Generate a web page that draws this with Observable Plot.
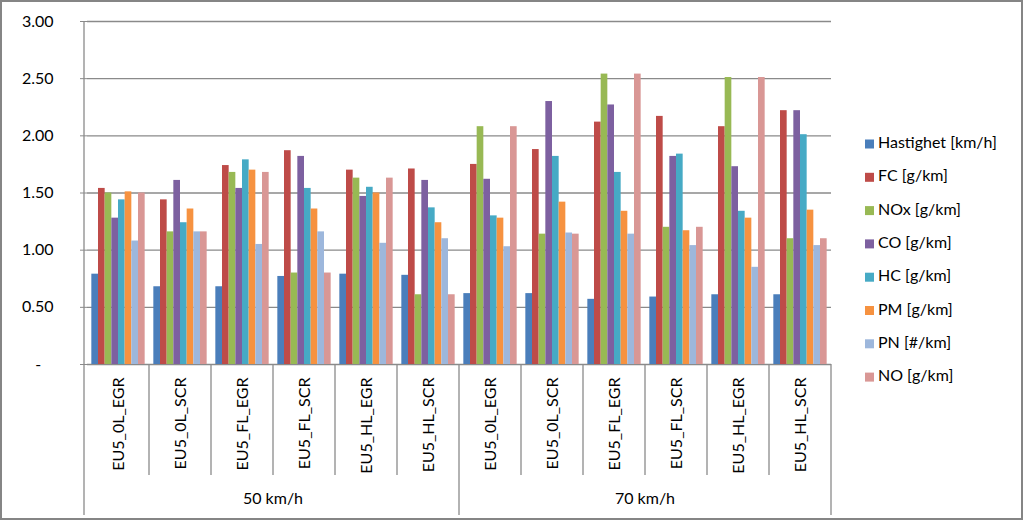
<!DOCTYPE html>
<html>
<head>
<meta charset="utf-8">
<script src="https://cdn.jsdelivr.net/npm/d3@7"></script>
<script src="https://cdn.jsdelivr.net/npm/@observablehq/plot@0.6"></script>
<style>
  html, body { margin: 0; padding: 0; background: #fff; }
  svg { display: block; }
</style>
</head>
<body>
<div id="chart"></div>
<script>
// ---- data ----
const groups = ["50 km/h", "70 km/h"];
const categories = ["EU5_0L_EGR", "EU5_0L_SCR", "EU5_FL_EGR", "EU5_FL_SCR", "EU5_HL_EGR", "EU5_HL_SCR"];
const series = ["Hastighet [km/h]", "FC [g/km]", "NOx [g/km]", "CO [g/km]", "HC [g/km]", "PM [g/km]", "PN [#/km]", "NO [g/km]"];
const seriesColors = ["#4A7EBB", "#BE4B48", "#98B954", "#7D60A0", "#46AAC5", "#F69240", "#9DB7DC", "#D99795"];
const yTicks = [0, 0.5, 1, 1.5, 2, 2.5, 3];

// values per category (order of series), 50 km/h group
const v50 = [
  [0.79, 1.54, 1.50, 1.28, 1.44, 1.51, 1.08, 1.50],
  [0.68, 1.44, 1.16, 1.61, 1.24, 1.36, 1.16, 1.16],
  [0.68, 1.74, 1.68, 1.54, 1.79, 1.70, 1.05, 1.68],
  [0.77, 1.87, 0.80, 1.82, 1.54, 1.36, 1.16, 0.80],
  [0.79, 1.70, 1.63, 1.47, 1.55, 1.50, 1.06, 1.63],
  [0.78, 1.71, 0.61, 1.61, 1.37, 1.24, 1.10, 0.61]
];
// 70 km/h group
const v70 = [
  [0.62, 1.75, 2.08, 1.62, 1.30, 1.28, 1.03, 2.08],
  [0.62, 1.88, 1.14, 2.30, 1.82, 1.42, 1.15, 1.14],
  [0.57, 2.12, 2.54, 2.27, 1.68, 1.34, 1.14, 2.54],
  [0.59, 2.17, 1.20, 1.82, 1.84, 1.17, 1.04, 1.20],
  [0.61, 2.08, 2.51, 1.73, 1.34, 1.28, 0.85, 2.51],
  [0.61, 2.22, 1.10, 2.22, 2.01, 1.35, 1.04, 1.10]
];

// ---- build table ----
const keys = [];
const data = [];
[v50, v70].forEach((vals, gi) => {
  categories.forEach((cat, ci) => {
    const key = gi + "|" + cat;
    keys.push(key);
    series.forEach((s, si) => {
      data.push({key, group: groups[gi], category: cat, series: s, value: vals[ci][si]});
    });
  });
});

const FONT = "Lato, 'Open Sans', sans-serif";
const FS = 16;
const W = 1024, H = 521;
const mL = 84, mR = 190, mT = 21, mB = 157;
const gridColor = "#8a8a8a";

const plot = Plot.plot({
  width: W,
  height: H,
  marginLeft: mL,
  marginRight: mR,
  marginTop: mT,
  marginBottom: mB,
  style: {fontFamily: FONT, fontSize: FS + "px", color: "#000", background: "#fff"},
  fx: {domain: keys, padding: 0, label: null, axis: null},
  x: {domain: series, paddingInner: 0, paddingOuter: 0.65, axis: null, round: false},
  y: {domain: [0, 3], label: null},
  color: {domain: series, range: seriesColors},
  marks: [
    Plot.gridY(yTicks, {stroke: gridColor, strokeOpacity: 1, strokeWidth: 1.3}),
    Plot.barY(data, {fx: "key", x: "series", y: "value", fill: "series"}),
    Plot.axisY(yTicks, {
      tickSize: 7, tickPadding: 27, stroke: gridColor, strokeOpacity: 1,
      tickFormat: d => d === 0 ? "-\u00A0\u00A0\u00A0" : d3.format(".2f")(d),
      fontSize: FS, fill: "#000", label: null
    }),
    Plot.axisFx({
      anchor: "bottom",
      tickRotate: -90, tickSize: 0, tickPadding: 13,
      tickFormat: k => k.split("|")[1],
      fontSize: FS, fill: "#000", label: null
    })
  ]
});

// ---- decorations drawn with the plot's own scales ----
const svg = d3.select(plot);
const fx = plot.scale("fx");
const y = plot.scale("y");
const bw = fx.bandwidth;
const y0 = y.apply(0);
const yTop = y.apply(3);
const sepBottom = y0 + 111;
const groupBottom = H - 6;
const deco = svg.append("g").attr("stroke", gridColor).attr("stroke-width", 1.3);

// y-axis line
deco.append("line").attr("x1", mL).attr("x2", mL).attr("y1", yTop).attr("y2", groupBottom);
// category separators
keys.forEach((k, i) => {
  if (i === 0) return;
  const x = fx.apply(k);
  deco.append("line").attr("x1", x).attr("x2", x).attr("y1", y0).attr("y2", i % categories.length === 0 ? groupBottom : sepBottom);
});
// right end
const xEnd = fx.apply(keys[keys.length - 1]) + bw;
deco.append("line").attr("x1", xEnd).attr("x2", xEnd).attr("y1", y0).attr("y2", groupBottom);

// group labels
groups.forEach((g, gi) => {
  const xa = fx.apply(keys[gi * categories.length]);
  const xb = fx.apply(keys[gi * categories.length + categories.length - 1]) + bw;
  svg.append("text")
    .attr("x", (xa + xb) / 2).attr("y", 500)
    .attr("text-anchor", "middle").attr("dominant-baseline", "middle")
    .attr("font-family", FONT).attr("font-size", FS).attr("fill", "#000")
    .text(g);
});

// legend
const color = plot.scale("color");
const leg = svg.append("g").attr("font-family", FONT).attr("font-size", FS).attr("text-anchor", "start");
series.forEach((s, i) => {
  const cy = 144 + i * 33.3;
  leg.append("rect").attr("x", 865).attr("y", cy - 4.5).attr("width", 9).attr("height", 9).attr("fill", color.apply(s));
  leg.append("text").attr("x", 878).attr("y", cy).attr("text-anchor", "start").attr("dominant-baseline", "middle").attr("fill", "#000").text(s);
});

// outer border
svg.append("rect").attr("x", 1).attr("y", 1).attr("width", W - 3).attr("height", H - 3)
  .attr("fill", "none").attr("stroke", "#858585").attr("stroke-width", 2);

document.getElementById("chart").appendChild(plot);
</script>
</body>
</html>
